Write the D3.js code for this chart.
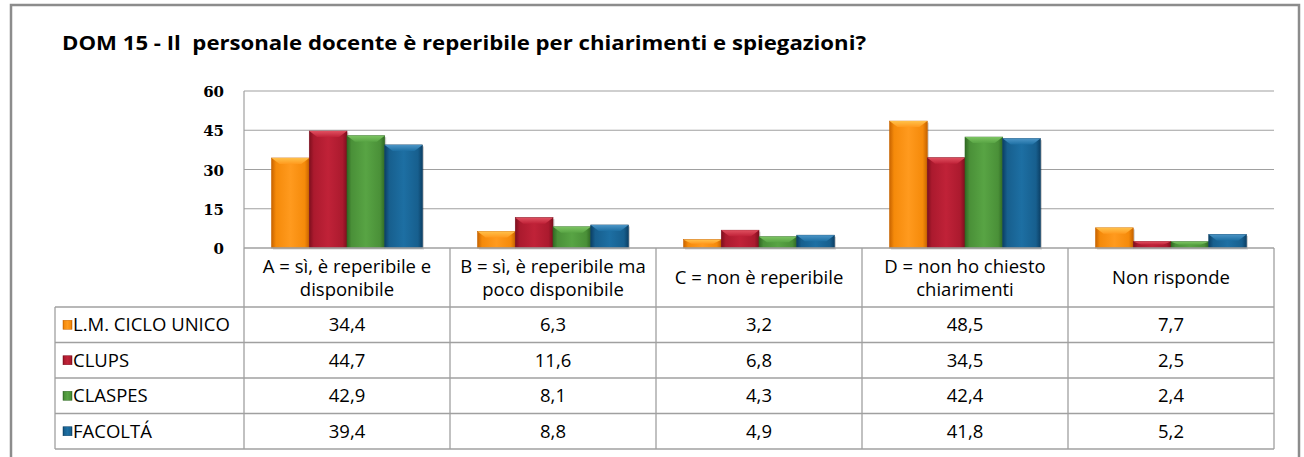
<html>
<head>
<meta charset="utf-8">
<script src="https://cdn.jsdelivr.net/npm/d3@7"></script>
<style>
  body { margin: 0; background: #fff; }
  text { font-family: "Open Sans", Lato, sans-serif; fill: #000; }
  .ytick { font-family: "DejaVu Serif", "Liberation Serif", serif; font-weight: bold; font-size: 15px; }
</style>
</head>
<body>
<div id="chart"></div>
<script>
var title = "DOM 15 - Il  personale docente è reperibile per chiarimenti e spiegazioni?";
var categories = [
  ["A = sì, è reperibile e", "disponibile"],
  ["B = sì, è reperibile ma", "poco disponibile"],
  ["C = non è reperibile"],
  ["D = non ho chiesto", "chiarimenti"],
  ["Non risponde"]
];
var seriesNames = ["L.M. CICLO UNICO", "CLUPS", "CLASPES", "FACOLTÁ"];
var lmCicloUnico = [34.4, 6.3, 3.2, 48.5, 7.7];
var clups = [44.7, 11.6, 6.8, 34.5, 2.5];
var claspes = [42.9, 8.1, 4.3, 42.4, 2.4];
var facolta = [39.4, 8.8, 4.9, 41.8, 5.2];
var yTicks = [0, 15, 30, 45, 60];

var seriesValues = [lmCicloUnico, clups, claspes, facolta];
// base, dark edge, light centre, top bevel
var colors = [
  ["#f58a0a", "#c86400", "#ff9a1e", "#ffc04a"],
  ["#ab1a2e", "#7e0f1e", "#c02238", "#e05060"],
  ["#4a9038", "#316a24", "#58a444", "#7cc462"],
  ["#175f8e", "#0c4066", "#1d6fa3", "#4c95c6"]
];

var W = 1304, H = 457;
var plot = {left: 244, right: 1274, top: 91, bottom: 248};
var legendLeft = 55;
var headerH = 59, rowH = 35.5;
var fs = "18.5px";

var svg = d3.select("#chart").append("svg").attr("width", W).attr("height", H);
var defs = svg.append("defs");

// outer frame
svg.append("rect").attr("x", 11).attr("y", 5).attr("width", 1288).attr("height", 480)
  .style("fill", "none").style("stroke", "#8c8c8c").style("stroke-width", 2.5);

svg.append("text").attr("x", 62).attr("y", 50)
  .style("font-size", "19px").style("font-weight", "bold").style("white-space", "pre")
  .attr("textLength", 804).attr("lengthAdjust", "spacingAndGlyphs")
  .text(title);

var keys = categories.map(function(c, i) { return "c" + i; });
var x = d3.scaleBand().domain(keys).range([plot.left, plot.right]);
var xs = d3.scaleBand().domain(seriesNames).range([0, x.bandwidth()]).paddingOuter(0.73);
var y = d3.scaleLinear().domain([0, 60]).range([plot.bottom, plot.top]);

// gradients
colors.forEach(function(c, i) {
  var g = defs.append("linearGradient").attr("id", "grad" + i).attr("x1", 0).attr("x2", 1).attr("y1", 0).attr("y2", 0);
  [[0, c[1]], [0.12, c[0]], [0.5, c[2]], [0.88, c[0]], [1, c[1]]].forEach(function(s) {
    g.append("stop").attr("offset", s[0]).attr("stop-color", s[1]);
  });
  var t = defs.append("linearGradient").attr("id", "top" + i).attr("x1", 0).attr("x2", 0).attr("y1", 0).attr("y2", 1);
  t.append("stop").attr("offset", 0).attr("stop-color", c[3]);
  t.append("stop").attr("offset", 1).attr("stop-color", c[2]);
});

// grid lines
svg.append("g").selectAll("line").data(yTicks.slice(1)).enter().append("line")
  .attr("x1", plot.left).attr("x2", plot.right)
  .attr("y1", function(d) { return y(d); }).attr("y2", function(d) { return y(d); })
  .style("stroke", "#a0a0a0").style("stroke-width", 1.2);
svg.append("line").attr("x1", plot.left).attr("x2", plot.left).attr("y1", plot.top).attr("y2", plot.bottom)
  .style("stroke", "#a0a0a0").style("stroke-width", 1.2);

// y axis
var yAxis = d3.axisLeft(y).tickValues(yTicks).tickSize(0).tickPadding(20);
var ya = svg.append("g").attr("transform", "translate(" + plot.left + ",0)").call(yAxis);
ya.select(".domain").remove();
ya.selectAll("text").attr("class", "ytick").attr("dy", "0.38em");

// bars
var rows = [];
seriesValues.forEach(function(vals, si) {
  vals.forEach(function(v, ci) { rows.push({s: si, c: ci, v: v}); });
});
var bars = svg.append("g").selectAll("g").data(rows).enter().append("g");
bars.append("rect")
  .attr("x", function(d) { return x(keys[d.c]) + xs(seriesNames[d.s]) + 1.5; })
  .attr("y", function(d) { return y(d.v) + 1.5; })
  .attr("width", xs.bandwidth())
  .attr("height", function(d) { return plot.bottom - y(d.v); })
  .style("fill", "rgba(0,0,0,0.18)");
bars.append("rect")
  .attr("x", function(d) { return x(keys[d.c]) + xs(seriesNames[d.s]); })
  .attr("y", function(d) { return y(d.v); })
  .attr("width", xs.bandwidth())
  .attr("height", function(d) { return plot.bottom - y(d.v); })
  .style("fill", function(d) { return "url(#grad" + d.s + ")"; })
  .style("stroke", function(d) { return colors[d.s][1]; }).style("stroke-width", 0.6);
bars.append("path")
  .attr("d", function(d) {
    var x0 = x(keys[d.c]) + xs(seriesNames[d.s]), w = xs.bandwidth();
    var y0 = y(d.v), h = Math.min(6, (plot.bottom - y0) / 2), ins = Math.min(8, w / 4);
    return "M" + x0 + "," + y0 + "L" + (x0 + w) + "," + y0 + "L" + (x0 + w - ins) + "," + (y0 + h) +
      "L" + (x0 + ins) + "," + (y0 + h) + "Z";
  })
  .style("fill", function(d) { return "url(#top" + d.s + ")"; });

// data table
var tableTop = plot.bottom;
var tableBottom = tableTop + headerH + rowH * seriesNames.length;
var lineStyle = function(sel) { return sel.style("stroke", "#a0a0a0").style("stroke-width", 1.3); };
var tg = svg.append("g");
lineStyle(tg.append("line").attr("x1", plot.left).attr("x2", plot.right).attr("y1", tableTop).attr("y2", tableTop));
seriesNames.forEach(function(s, i) {
  var yy = tableTop + headerH + rowH * i;
  lineStyle(tg.append("line").attr("x1", legendLeft).attr("x2", plot.right).attr("y1", yy).attr("y2", yy));
});
lineStyle(tg.append("line").attr("x1", legendLeft).attr("x2", plot.right).attr("y1", tableBottom).attr("y2", tableBottom));
lineStyle(tg.append("line").attr("x1", legendLeft).attr("x2", legendLeft).attr("y1", tableTop + headerH).attr("y2", tableBottom));
keys.forEach(function(k) {
  lineStyle(tg.append("line").attr("x1", x(k)).attr("x2", x(k)).attr("y1", tableTop).attr("y2", tableBottom));
});
lineStyle(tg.append("line").attr("x1", plot.right).attr("x2", plot.right).attr("y1", tableTop).attr("y2", tableBottom));

// header labels
categories.forEach(function(lines, i) {
  var cx = x(keys[i]) + x.bandwidth() / 2;
  var cy = tableTop + headerH / 2;
  var t = tg.append("text").attr("text-anchor", "middle").style("font-size", fs);
  lines.forEach(function(l, j) {
    t.append("tspan").attr("x", cx)
      .attr("y", cy + (j - (lines.length - 1) / 2) * 23 + 6.5).text(l);
  });
});

// legend column + values
var fmt = function(v) { return d3.format(".1f")(v).replace(".", ","); };
seriesNames.forEach(function(name, si) {
  var cy = tableTop + headerH + rowH * si + rowH / 2;
  tg.append("rect").attr("x", 63).attr("y", cy - 4.5).attr("width", 9).attr("height", 9)
    .style("fill", "url(#grad" + si + ")").style("stroke", colors[si][1]).style("stroke-width", 0.5);
  tg.append("text").attr("x", 73).attr("y", cy + 6.5).style("font-size", fs).text(name);
  seriesValues[si].forEach(function(v, ci) {
    tg.append("text").attr("x", x(keys[ci]) + x.bandwidth() / 2).attr("y", cy + 6.5)
      .attr("text-anchor", "middle").style("font-size", fs).text(fmt(v));
  });
});
</script>
</body>
</html>
